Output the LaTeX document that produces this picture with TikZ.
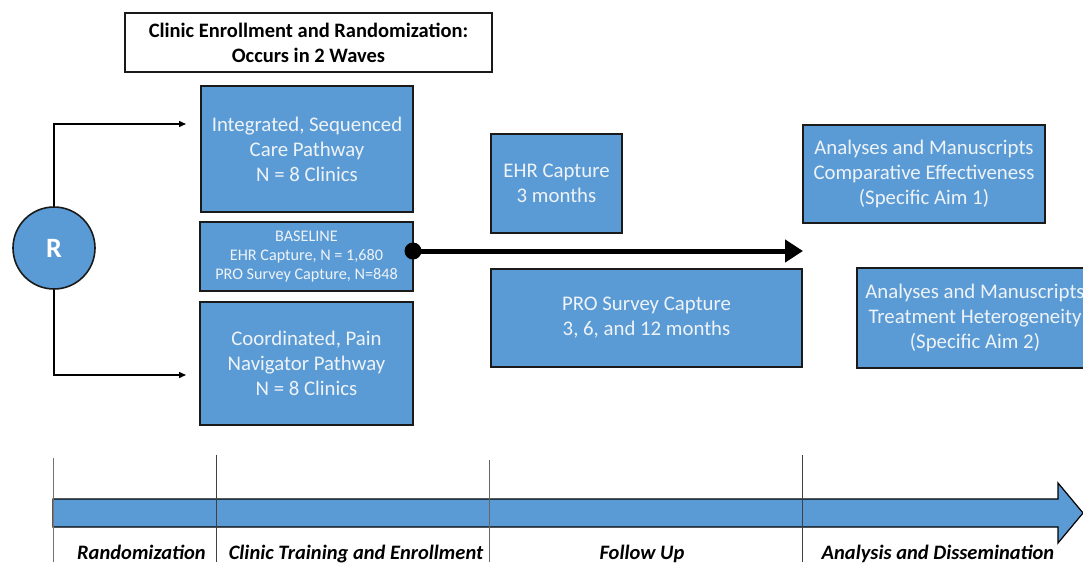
\documentclass[tikz,border=0pt]{standalone}
\usepackage{fontspec}
\setmainfont{Carlito}
\usetikzlibrary{arrows.meta}
\definecolor{boxblue}{HTML}{5B9BD5}
\definecolor{boxtext}{HTML}{EEF3F8}
\definecolor{edge}{HTML}{1A1A1A}
\begin{document}
\begin{tikzpicture}[x=1pt,y=-1pt,
  bluebox/.style={draw=edge,line width=1.6pt,fill=boxblue,text=boxtext,align=center,
    inner sep=0pt,font=\fontsize{20.8}{25}\selectfont},
  titlebox/.style={draw=edge,line width=1.4pt,fill=white,align=center,inner sep=0pt,
    font=\bfseries\fontsize{20.5}{25}\selectfont},
  phase/.style={font=\bfseries\itshape\fontsize{20.5}{22}\selectfont,anchor=base},
  tick/.style={draw=black!75,line width=1pt},
  branch/.style={draw=black,line width=1.4pt,-{Triangle[length=7pt,width=6pt]}}
]
\path[use as bounding box,clip] (0,0) rectangle (1083,562);

% title
\node[titlebox,minimum width=367pt,minimum height=59pt] (title) at (308.5,42.5)
  {Clinic Enrollment and Randomization:\\Occurs in 2 Waves};

% left column boxes
\node[bluebox,minimum width=212pt,minimum height=126pt] (isc) at (307,149)
  {Integrated, Sequenced\\Care Pathway\\N = 8 Clinics};
\node[bluebox,minimum width=213pt,minimum height=69pt,font=\fontsize{16.2}{19}\selectfont] (base) at (306.5,256.5)
  {BASELINE\\EHR Capture, N = 1,680\\PRO Survey Capture, N=848};
\node[bluebox,minimum width=213pt,minimum height=123pt] (cpn) at (306.5,363.5)
  {Coordinated, Pain\\Navigator Pathway\\N = 8 Clinics};

% R circle
\node[circle,draw=edge,line width=1.6pt,fill=boxblue,text=white,minimum size=82pt,inner sep=0pt,
  font=\bfseries\fontsize{28}{30}\selectfont] (R) at (54,248) {R};
\coordinate (a1) at (186,124);
\coordinate (a2) at (186,375);
\draw[branch] (R.north) |- (a1);
\draw[branch] (R.south) |- (a2);

% follow-up boxes
\node[bluebox,minimum width=131pt,minimum height=99pt] (ehr) at (556.5,183.5)
  {EHR Capture\\3 months};
\node[bluebox,minimum width=311pt,minimum height=98pt] (pro) at (646.5,318)
  {PRO Survey Capture\\3, 6, and 12 months};

% analysis boxes
\node[bluebox,minimum width=242pt,minimum height=98pt] (aim1) at (924,174)
  {Analyses and Manuscripts\\Comparative Effectiveness\\(Specific Aim 1)};
\node[bluebox,minimum width=236pt,minimum height=100pt] (aim2) at (975,318)
  {Analyses and Manuscripts\\Treatment Heterogeneity\\(Specific Aim 2)};

% thick arrow
\coordinate (dot) at (413,251);
\coordinate (tip) at (803,251);
\draw[line width=5pt,-{Triangle[length=18pt,width=22pt]}] (dot) -- (tip);
\fill (dot) circle (8.5pt);

% timeline arrow
\draw[fill=boxblue,draw=black,line width=1.2pt]
  (53,499) -- (1058,499) -- (1058,483) -- (1083,513) -- (1058,543) -- (1058,527) -- (53,527) -- cycle;
\draw[tick,draw=black!55] (53,458) -- (53,562);
\draw[tick] (216,455) -- (216,562);
\draw[tick,draw=black!60] (489,460) -- (489,562);
\draw[tick] (802,455) -- (802,562);

\node[phase] (p1) at (141.5,559) {Randomization};
\node[phase] (p2) at (356,559) {Clinic Training and Enrollment};
\node[phase] (p3) at (642,559) {Follow Up};
\node[phase] (p4) at (938,559) {Analysis and Dissemination};
\end{tikzpicture}
\end{document}
